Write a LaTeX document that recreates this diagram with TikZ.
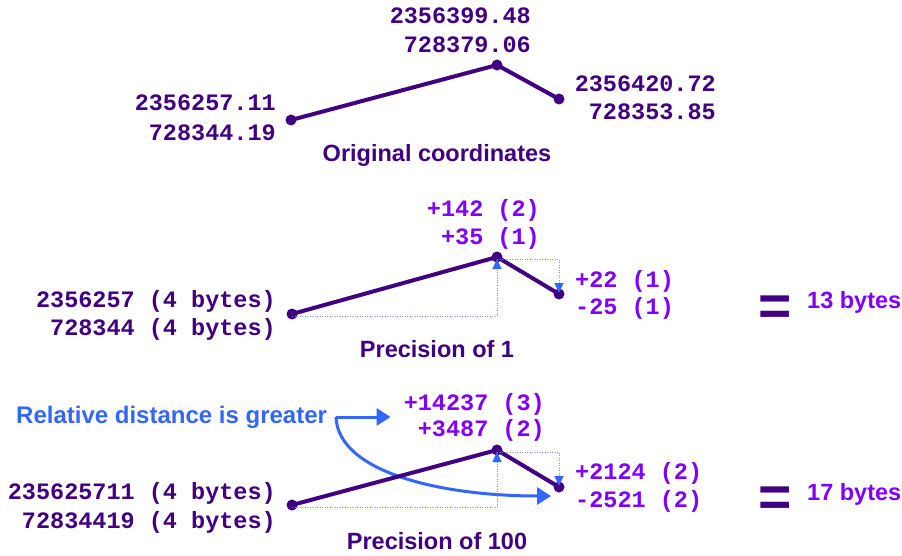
\documentclass[tikz,border=0pt]{standalone}
\usepackage{fontspec}
\setmainfont{Liberation Sans}
\newfontfamily\monob{Liberation Mono}
\usetikzlibrary{arrows.meta}
\definecolor{dpurple}{HTML}{400080}
\definecolor{bpurple}{HTML}{8000FF}
\definecolor{rblue}{HTML}{3366FF}
\definecolor{dblue}{HTML}{7090E0}
\tikzset{
  num/.style={font=\monob\bfseries\fontsize{23.5}{28}\selectfont, text=dpurple, inner sep=0pt},
  dnum/.style={num, text=bpurple},
  captxt/.style={font=\bfseries\fontsize{23.5}{28}\selectfont, text=dpurple, inner sep=0pt},
  bytestxt/.style={font=\bfseries\fontsize{23.5}{28}\selectfont, text=bpurple, inner sep=0pt},
  eqtxt/.style={font=\bfseries\fontsize{57}{57}\selectfont, text=dpurple, inner sep=0pt},
  reltxt/.style={font=\bfseries\fontsize{24}{28}\selectfont, text=rblue, inner sep=0pt},
  pt/.style={circle, fill=dpurple, inner sep=0pt, minimum size=11pt},
  poly/.style={draw=dpurple, line width=4pt, line join=round},
  guide/.style={draw=dblue, dash pattern=on 1pt off 1.5pt, line width=1pt,
    -{Triangle[length=10pt,width=9pt,color=rblue]}},
  bigarrow/.style={draw=rblue, line width=3pt, -{Triangle[length=14pt,width=17pt]}}
}
\begin{document}
\begin{tikzpicture}[x=1pt,y=-1pt]
\useasboundingbox (0,0) rectangle (902,556);
% ---------- Panel 1 ----------
\node[pt] (a1) at (291,120) {};
\node[pt] (b1) at (497,65) {};
\node[pt] (c1) at (559,99) {};
\draw[poly] (a1.center) -- (b1.center) -- (c1.center);
\node[num, anchor=base east] (b1x) at (531,24) {2356399.48};
\node[num, anchor=base east] (b1y) at (531,53) {728379.06};
\node[num, anchor=base east] (a1x) at (276,111) {2356257.11};
\node[num, anchor=base east] (a1y) at (276,141) {728344.19};
\node[num, anchor=base east] (c1x) at (716,92) {2356420.72};
\node[num, anchor=base east] (c1y) at (716,120) {728353.85};
\node[captxt, anchor=base] (cap1) at (437,162) {Original coordinates};
% ---------- Panel 2 ----------
\node[pt] (a2) at (292,314) {};
\node[pt] (b2) at (497,257) {};
\node[pt] (c2) at (559,294) {};
\coordinate (k2) at ([yshift=-2pt]b2 |- a2);
\coordinate (m2) at ([yshift=-2pt]c2 |- b2);
\draw[poly] (a2.center) -- (b2.center) -- (c2.center);
\draw[guide] ([yshift=-2pt]a2.center) -- (k2) -- ([yshift=-2pt]b2.center);
\draw[guide] ([yshift=-2pt]b2.center) -- (m2) -- ([yshift=1pt]c2.center);
\node[dnum, anchor=base east] (b2x) at (540,217) {+142 (2)};
\node[dnum, anchor=base east] (b2y) at (540,244) {+35 (1)};
\node[dnum, anchor=base west] (c2x) at (575,287) {+22 (1)};
\node[dnum, anchor=base west] (c2y) at (575,314) {-25 (1)};
\node[num, anchor=base east] (a2x) at (276,307) {2356257 (4 bytes)};
\node[num, anchor=base east] (a2y) at (276,335) {728344 (4 bytes)};
\node[captxt, anchor=base] (cap2) at (437,357) {Precision of 1};
\node[eqtxt, anchor=base] (eq2) at (775,325) {=};
\node[bytestxt, anchor=base west] (by2) at (807,308) {13 bytes};
% ---------- Panel 3 ----------
\node[pt] (a3) at (292,505) {};
\node[pt] (b3) at (497,450) {};
\node[pt] (c3) at (559,487) {};
\coordinate (k3) at ([yshift=-2pt]b3 |- a3);
\coordinate (m3) at ([yshift=-2pt]c3 |- b3);
\node[dnum, anchor=base east] (b3x) at (545,410) {+14237 (3)};
\node[dnum, anchor=base east] (b3y) at (545,436) {+3487 (2)};
\node[dnum, anchor=base west] (c3x) at (575,479) {+2124 (2)};
\node[dnum, anchor=base west] (c3y) at (575,507) {-2521 (2)};
\node[num, anchor=base east] (a3x) at (276,499) {235625711 (4 bytes)};
\node[num, anchor=base east] (a3y) at (276,528) {72834419 (4 bytes)};
\node[captxt, anchor=base] (cap3) at (437,549) {Precision of 100};
\node[eqtxt, anchor=base] (eq3) at (775,516) {=};
\node[bytestxt, anchor=base west] (by3) at (807,500) {17 bytes};
\node[reltxt, anchor=base west] (rel) at (16,423) {Relative distance is greater};
\coordinate (s3) at (336,417);
\coordinate (e3) at (551,496);
\draw[bigarrow] (s3) -- (b3x.west |- s3) [shorten >=13pt];
\draw[bigarrow] (s3) .. controls (338,472) and (440,496) .. (e3);
\draw[poly] (a3.center) -- (b3.center) -- (c3.center);
\draw[guide] ([yshift=-2pt]a3.center) -- (k3) -- ([yshift=-2pt]b3.center);
\draw[guide] ([yshift=-2pt]b3.center) -- (m3) -- ([yshift=1pt]c3.center);
\end{tikzpicture}
\end{document}
